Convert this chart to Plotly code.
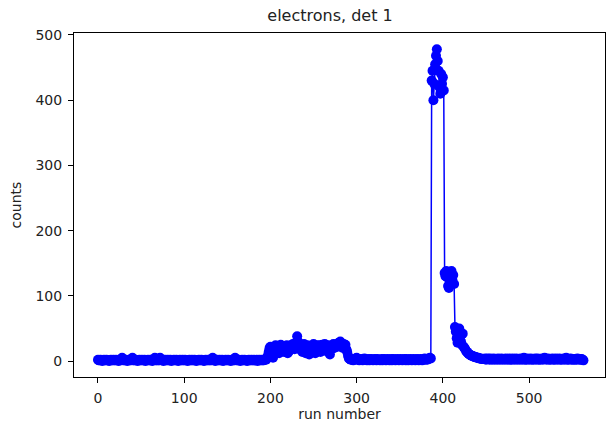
import plotly.graph_objects as go

# counts per run (runs 0..563)
baseline_a = [
    2,1,1,2,1,0,1,2,1,1,2,1,1,0,1,2,1,1,2,1,
    1,2,1,1,0,1,2,1,5,2,1,1,2,1,0,1,2,1,1,2,
    5,1,1,2,1,1,0,1,2,1,1,2,1,1,2,0,1,1,2,1,
    1,2,1,0,1,2,5,1,1,2,1,1,5,2,1,1,0,1,2,1,
    1,2,1,1,2,0,1,1,2,1,1,2,1,0,1,2,1,1,2,1,
    1,2,1,1,0,1,2,1,1,2,1,1,2,1,0,1,1,2,1,1,
    2,1,1,0,1,2,1,1,2,1,1,2,1,5,2,1,0,1,2,1,
    1,2,1,1,2,0,1,1,2,1,1,2,1,1,0,1,2,1,1,5,
    2,1,1,2,1,0,1,2,1,1,2,1,1,0,1,2,1,1,2,1,
    1,2,1,1,2,0,1,2,1,1,2,1,1,2,3,2,4,
]
bump = [
    8,14,20,22,18,10,5,12,20,24,16,22,18,12,20,25,15,22,19,14,
    21,18,24,12,20,16,22,24,20,26,22,18,25,28,38,30,22,18,25,20,
    14,22,26,19,12,21,24,18,10,20,23,15,22,26,18,12,21,24,20,16,
    24,14,22,25,19,20,26,18,15,22,24,20,10,21,18,24,26,20,22,24,
    26,22,28,25,30,27,24,20,26,22,25,18,14,8,4,3,
]
baseline_b = [
    2,3,2,1,3,2,4,5,3,2,1,2,3,2,1,2,4,3,2,1,
    2,3,1,2,3,2,1,2,3,2,1,3,2,2,1,2,3,1,2,3,
    2,1,2,3,2,1,2,3,1,2,3,2,1,2,3,2,1,2,3,2,
    1,2,3,2,1,3,2,1,2,3,2,1,2,3,2,1,2,3,2,1,
    2,3,2,1,2,3,4,2,3,2,3,4,5,4,
]
spike = [430,445,400,425,455,468,478,460,445,420,410,440,425,435,415]
shoulder = [135,130,138,128,115,112,120,130,138,125,132,118]
tail = [52,45,35,28,40,50,38,30,25,42]
decay = [22,20,18,15,14,12,11,10,9,8,8,7,7,6,6,5,5,5,4,4,4,3,3,3]
baseline_c = [
    3,4,2,3,4,3,2,4,3,2,3,4,2,3,3,2,4,3,2,3,
    4,2,3,3,2,4,3,2,3,4,2,3,2,4,3,2,3,4,2,3,
    3,2,4,3,2,3,5,2,3,2,4,3,2,3,4,2,3,2,3,4,
    2,3,4,2,3,2,3,4,2,3,5,3,2,3,4,2,3,2,3,4,
    2,3,2,4,3,2,3,4,2,3,2,3,4,2,3,5,2,3,2,3,
    4,2,3,2,3,2,3,2,4,3,2,3,2,3,2,1,
]

counts = baseline_a + bump + baseline_b + spike + shoulder + tail + decay + baseline_c
runs = list(range(len(counts)))

x_ticks = [0, 100, 200, 300, 400, 500]
y_ticks = [0, 100, 200, 300, 400, 500]

fig = go.Figure(
    go.Scatter(
        x=runs, y=counts, mode="lines+markers",
        line=dict(color="#0000ff", width=1.5),
        marker=dict(color="#0000ff", size=10, line=dict(width=0)),
    )
)

axis_common = dict(
    showline=True, linecolor="black", linewidth=1, mirror=True,
    ticks="outside", ticklen=5, tickcolor="black", tickwidth=1,
    ticklabelstandoff=3,
    showgrid=False, zeroline=False,
    tickfont=dict(family="DejaVu Sans", size=14, color="#222"),
)

fig.update_layout(
    width=606, height=427,
    margin=dict(l=74, r=1, t=33, b=50),
    paper_bgcolor="white", plot_bgcolor="white",
    showlegend=False,
    font=dict(family="DejaVu Sans", color="#222"),
    title=dict(text="electrons, det 1", x=330 / 606, xref="container", xanchor="center",
               y=1 - 15 / 427, yref="container", yanchor="middle",
               font=dict(family="DejaVu Sans", size=16, color="#222")),
    xaxis=dict(range=[-27.8, 588], tickvals=x_ticks,
               title=dict(text="run number", standoff=4,
                          font=dict(family="DejaVu Sans", size=14, color="#222")),
               **axis_common),
    yaxis=dict(range=[-24.5, 503], tickvals=y_ticks,
               title=dict(text="counts", standoff=10,
                          font=dict(family="DejaVu Sans", size=14, color="#222")),
               **axis_common),
)

fig.write_html("out.html")
